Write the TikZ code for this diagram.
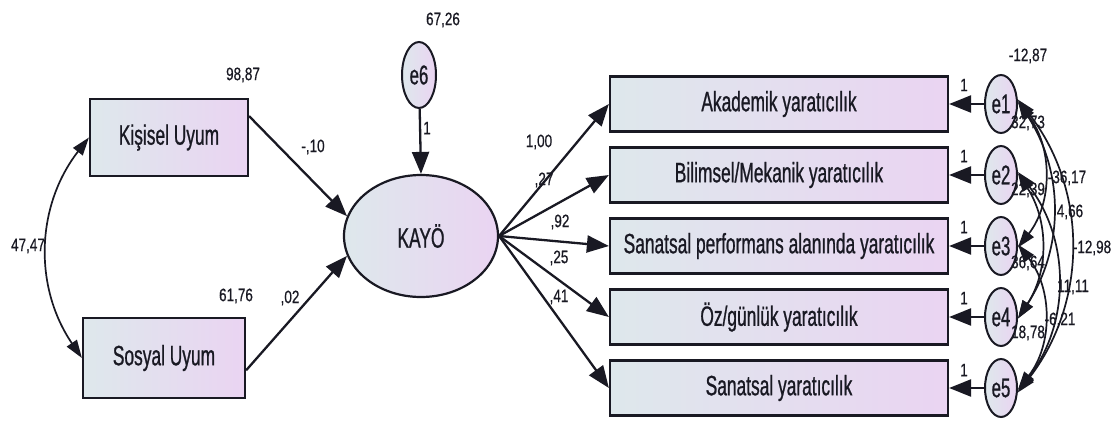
\documentclass[tikz,border=0pt]{standalone}
\usepackage{fontspec}
\setmainfont{Liberation Sans}[FakeStretch=0.62,FakeBold=0.8]
\newfontfamily\labfont{Liberation Sans}[FakeStretch=0.75,FakeBold=0.6]
\usetikzlibrary{arrows.meta,shapes.geometric,calc}
\definecolor{gl}{RGB}{222,232,236}
\definecolor{gr}{RGB}{234,212,242}
\definecolor{ink}{RGB}{25,25,35}
\tikzset{
  obsbox/.style={draw=ink,line width=2.2pt,left color=gl,right color=gr,
    inner sep=0pt,font=\fontsize{28}{28}\selectfont,text=ink},
  latent/.style={draw=ink,line width=2.2pt,ellipse,left color=gl,right color=gr,inner sep=0pt,
    font=\fontsize{28}{28}\selectfont,text=ink},
  errc/.style={draw=ink,line width=2pt,ellipse,left color=gl,right color=gr,inner sep=0pt,
    minimum width=32pt,minimum height=58pt,font=\fontsize{27}{27}\selectfont,text=ink},
  path/.style={draw=ink,line width=2.3pt,-{Triangle[length=22pt,width=17pt]}},
  cov/.style={draw=ink,line width=1.7pt,{Triangle[length=18pt,width=12pt]}-{Triangle[length=18pt,width=12pt]}},
  lab/.style={font=\labfont\fontsize{18}{18}\selectfont,text=ink,inner sep=0pt}
}
\begin{document}
\begin{tikzpicture}[x=1pt,y=-1pt]
\useasboundingbox (0,0) rectangle (1120,421);
% left boxes
\node[obsbox,minimum width=158pt,minimum height=77pt] (ku) at (169,137.5) {Kişisel Uyum};
\node[obsbox,minimum width=162pt,minimum height=80pt] (su) at (164,358) {Sosyal Uyum};
% latent
\node[latent,minimum width=154pt,minimum height=122pt] (k) at (421,236) {KAYÖ};
\node[errc,minimum width=34pt,minimum height=66pt] (e6) at (419,75) {e6};
% right boxes
\tikzset{rb/.style={obsbox,minimum width=338pt,minimum height=55pt}}
\node[rb] (b1) at (779,104) {Akademik yaratıcılık};
\node[rb] (b2) at (779,175) {Bilimsel/Mekanik yaratıcılık};
\node[rb] (b3) at (779,246) {Sanatsal performans alanında yaratıcılık};
\node[rb] (b4) at (779,317) {Öz/günlük yaratıcılık};
\node[rb] (b5) at (779,388) {Sanatsal yaratıcılık};
\foreach \i/\y in {1/104,2/175,3/246,4/317,5/388}{
  \node[errc] (e\i) at (1001,\y) {e\i};
  \draw[path] (e\i) -- (b\i.east);
}
% paths
\draw[path] ($(ku.north east)!0.23!(ku.south east)$) -- (k.165);
\draw[path] ($(su.north east)!0.65!(su.south east)$) -- (k.195);
\draw[path] (e6) -- (k.north);
\foreach \i in {1,...,5}{\draw[path] (k.east) -- (b\i.west);}
% covariance left
\draw[cov] (ku.west) to[bend right=36] (su.west);
% covariances right
\draw[cov] (e1.5) to[bend left=38] (e3.-5);
\draw[cov] (e1.10) to[bend left=33] (e4.-5);
\draw[cov] (e1.15) to[bend left=38] (e5.-15);
\draw[cov] (e2.5) to[bend left=33] (e4.-5);
\draw[cov] (e2.10) to[bend left=38] (e5.-10);
\draw[cov] (e3.5) to[bend left=38] (e5.-5);
% labels
\node[lab] (l1) at (243,75) {98,87};
\node[lab] (l2) at (236,296) {61,76};
\node[lab] (l3) at (313,147) {-,10};
\node[lab] (l4) at (290,298) {,02};
\node[lab] (l5) at (28,246) {47,47};
\node[lab] (l6) at (443,20) {67,26};
\node[lab] (l7) at (427,128) {1};
\node[lab] (l8) at (539,142) {1,00};
\node[lab] (l9) at (544,180) {,27};
\node[lab] (l10) at (560,222) {,92};
\node[lab] (l11) at (559,258) {,25};
\node[lab] (l12) at (559,297) {,41};
\foreach \y [count=\n] in {85,156,227,298,370}{\node[lab] (o\n) at (964,\y) {1};}
\node[lab] (v1) at (1028,56) {-12,87};
\node[lab] (v2) at (1028,123) {32,73};
\node[lab] (v3) at (1028,190) {22,39};
\node[lab] (v4) at (1028,263) {36,64};
\node[lab] (v5) at (1028,333) {18,78};
\node[lab] (c1) at (1067,178) {-36,17};
\node[lab] (c2) at (1070,212) {4,66};
\node[lab] (c3) at (1092,248) {-12,98};
\node[lab] (c4) at (1073,287) {11,11};
\node[lab] (c5) at (1060,320) {-6,21};
\end{tikzpicture}
\end{document}
